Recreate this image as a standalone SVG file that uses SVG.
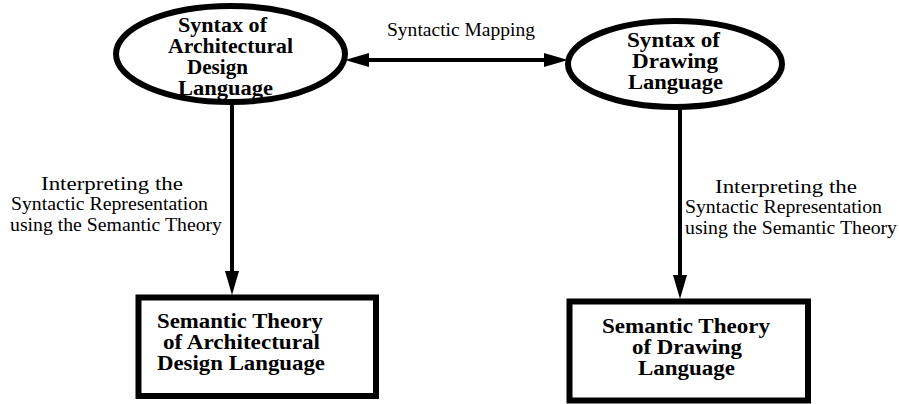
<svg xmlns="http://www.w3.org/2000/svg" width="899" height="404" viewBox="0 0 899 404">
<style>
.shape{fill:#fff;stroke:#000;stroke-width:6}
.b{font-family:"Liberation Serif","Times New Roman",serif;font-weight:bold;font-size:20px;fill:#000}
.n{font-family:"Liberation Serif","Times New Roman",serif;font-size:19px;fill:#000}
.conn{stroke:#000;stroke-width:4;fill:none}
</style>
<defs>
<marker id="ah" viewBox="0 0 24 14" refX="16" refY="7" markerWidth="24" markerHeight="14" markerUnits="userSpaceOnUse" orient="auto-start-reverse">
<path d="M0,0 L24,7 L0,14 Z" fill="#000"/>
</marker>
</defs>
<rect width="899" height="404" fill="#fff"/>
<g id="connectors">
<line class="conn" x1="353" y1="60" x2="560" y2="60" marker-start="url(#ah)" marker-end="url(#ah)"/>
<line class="conn" x1="232" y1="102" x2="232" y2="287" marker-end="url(#ah)"/>
<line class="conn" x1="680" y1="107" x2="680" y2="291" marker-end="url(#ah)"/>
</g>
<g id="label-mapping">
<text class="n" x="387" y="36" textLength="148" lengthAdjust="spacingAndGlyphs">Syntactic Mapping</text>
</g>
<g id="label-left">
<text class="n" x="41" y="190" textLength="142" lengthAdjust="spacingAndGlyphs">Interpreting the</text>
<text class="n" x="11" y="210" textLength="197" lengthAdjust="spacingAndGlyphs">Syntactic Representation</text>
<text class="n" x="10" y="231" textLength="212" lengthAdjust="spacingAndGlyphs">using the Semantic Theory</text>
</g>
<g id="label-right">
<text class="n" x="715" y="193" textLength="142" lengthAdjust="spacingAndGlyphs">Interpreting the</text>
<text class="n" x="685" y="213" textLength="197" lengthAdjust="spacingAndGlyphs">Syntactic Representation</text>
<text class="n" x="685" y="234" textLength="212" lengthAdjust="spacingAndGlyphs">using the Semantic Theory</text>
</g>
<g id="syntax-arch">
<ellipse class="shape" cx="230.5" cy="54" rx="114.5" ry="48"/>
<text class="b" x="178" y="32" textLength="89" lengthAdjust="spacingAndGlyphs">Syntax of</text>
<text class="b" x="168" y="53" textLength="125" lengthAdjust="spacingAndGlyphs">Architectural</text>
<text class="b" x="187" y="74" textLength="61" lengthAdjust="spacingAndGlyphs">Design</text>
<text class="b" x="178" y="95" textLength="95" lengthAdjust="spacingAndGlyphs">Language</text>
</g>
<g id="syntax-draw">
<ellipse class="shape" cx="675" cy="64" rx="107" ry="43"/>
<text class="b" x="627" y="47" textLength="93" lengthAdjust="spacingAndGlyphs">Syntax of</text>
<text class="b" x="632" y="68" textLength="86" lengthAdjust="spacingAndGlyphs">Drawing</text>
<text class="b" x="628" y="89" textLength="95" lengthAdjust="spacingAndGlyphs">Language</text>
</g>
<g id="semantic-arch">
<rect class="shape" x="138.5" y="297.5" width="237.5" height="98.5"/>
<text class="b" x="157" y="328" textLength="166" lengthAdjust="spacingAndGlyphs">Semantic Theory</text>
<text class="b" x="163" y="349" textLength="157" lengthAdjust="spacingAndGlyphs">of Architectural</text>
<text class="b" x="157" y="370" textLength="168" lengthAdjust="spacingAndGlyphs">Design Language</text>
</g>
<g id="semantic-draw">
<rect class="shape" x="569.5" y="301.5" width="238.5" height="99"/>
<text class="b" x="602" y="333" textLength="168" lengthAdjust="spacingAndGlyphs">Semantic Theory</text>
<text class="b" x="632" y="354" textLength="110" lengthAdjust="spacingAndGlyphs">of Drawing</text>
<text class="b" x="638" y="375" textLength="97" lengthAdjust="spacingAndGlyphs">Language</text>
</g>
</svg>
